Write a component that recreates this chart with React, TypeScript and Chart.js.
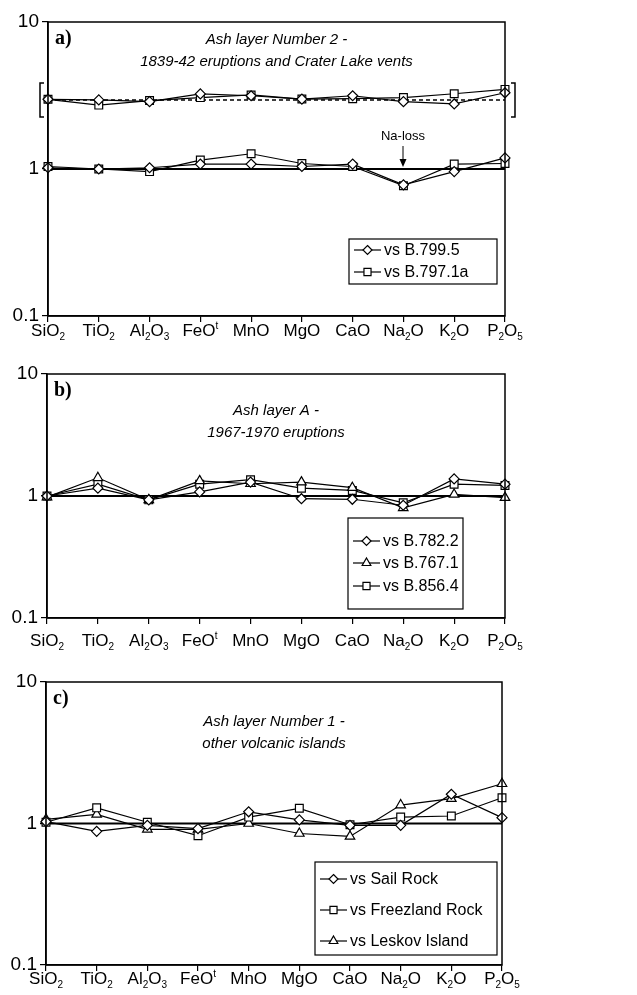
import React, { useEffect, useRef } from 'react';
import { Chart, registerables } from 'chart.js';
Chart.register(...registerables);

// ---------- data ----------
const OXIDES = ['SiO_2', 'TiO_2', 'Al_2O_3', 'FeO^t', 'MnO', 'MgO', 'CaO', 'Na_2O', 'K_2O', 'P_2O_5'];
const Y_TICK_VALUES = [0.1, 1, 10];

// Panel a – Ash layer Number 2
const A_VS_B7995 = [1.02, 1.0, 1.02, 1.08, 1.08, 1.04, 1.08, 0.78, 0.96, 1.19];
const A_VS_B7971A = [1.04, 1.0, 0.96, 1.15, 1.27, 1.09, 1.04, 0.77, 1.08, 1.09];
const A_VS_B7995_UPPER = [2.98, 2.95, 2.87, 3.24, 3.15, 2.99, 3.15, 2.87, 2.77, 3.3];
const A_VS_B7971A_UPPER = [2.98, 2.72, 2.92, 3.06, 3.19, 2.99, 3.01, 3.06, 3.25, 3.48];
const A_DASHED_LEVEL = 2.95;

// Panel b – Ash layer A
const B_VS_B7822 = [1.0, 1.16, 0.93, 1.08, 1.3, 0.95, 0.94, 0.84, 1.38, 1.25];
const B_VS_B7671 = [0.98, 1.41, 0.93, 1.33, 1.26, 1.3, 1.17, 0.8, 1.03, 0.97];
const B_VS_B8564 = [1.0, 1.25, 0.93, 1.25, 1.36, 1.16, 1.11, 0.88, 1.25, 1.22];

// Panel c – Ash layer Number 1
const C_VS_SAIL = [1.03, 0.88, 0.97, 0.92, 1.21, 1.06, 0.97, 0.97, 1.61, 1.1];
const C_VS_FREEZLAND = [1.02, 1.29, 1.02, 0.82, 1.11, 1.28, 0.98, 1.11, 1.13, 1.52];
const C_VS_LESKOV = [1.07, 1.16, 0.91, 0.91, 1.0, 0.85, 0.81, 1.35, 1.5, 1.91];

const REFERENCE_LEVEL = 1;

// ---------- types ----------
type Marker = 'rectRot' | 'rect' | 'triangle';
interface SeriesDef { label: string; data: number[]; marker: Marker; legend: boolean; }
interface PanelDef {
  canvasTop: number; canvasHeight: number;
  left: number; right: number; top: number; bottom: number;
  letter: string;
  titleLines: string[]; titleY: number[];
  labelBaseline: number;
  series: SeriesDef[];
  legend: { x: number; y: number; w: number; h: number; rows: number[] };
  dashedLevel?: number;
  brackets?: { top: number; bottom: number; lx: number; rx: number };
  naLoss?: { x: number; textY: number; y0: number; y1: number };
}

const RADIUS: Record<Marker, number> = { rect: 5.5, rectRot: 5, triangle: 5.5 };
const SANS = '"Liberation Sans", Arial, sans-serif';
const SERIF = '"Liberation Serif", "Times New Roman", serif';

const PANELS: PanelDef[] = [
  {
    canvasTop: 0, canvasHeight: 345, left: 48, right: 505, top: 22, bottom: 316,
    letter: 'a)',
    titleLines: ['Ash layer Number 2 -', '1839-42 eruptions and Crater Lake vents'], titleY: [44, 66],
    labelBaseline: 336,
    series: [
      { label: 'vs B.799.5', data: A_VS_B7995_UPPER, marker: 'rectRot', legend: false },
      { label: 'vs B.797.1a', data: A_VS_B7971A_UPPER, marker: 'rect', legend: false },
      { label: 'vs B.799.5', data: A_VS_B7995, marker: 'rectRot', legend: true },
      { label: 'vs B.797.1a', data: A_VS_B7971A, marker: 'rect', legend: true },
    ],
    legend: { x: 349, y: 239, w: 148, h: 45, rows: [250, 272] },
    dashedLevel: A_DASHED_LEVEL,
    brackets: { top: 83, bottom: 117, lx: 40, rx: 515 },
    naLoss: { x: 403, textY: 140, y0: 146, y1: 167 },
  },
  {
    canvasTop: 345, canvasHeight: 315, left: 47, right: 505, top: 374, bottom: 618,
    letter: 'b)',
    titleLines: ['Ash layer A -', '1967-1970 eruptions'], titleY: [415, 437],
    labelBaseline: 646,
    series: [
      { label: 'vs B.782.2', data: B_VS_B7822, marker: 'rectRot', legend: true },
      { label: 'vs B.767.1', data: B_VS_B7671, marker: 'triangle', legend: true },
      { label: 'vs B.856.4', data: B_VS_B8564, marker: 'rect', legend: true },
    ],
    legend: { x: 348, y: 518, w: 115, h: 91, rows: [541, 563, 586] },
  },
  {
    canvasTop: 660, canvasHeight: 335, left: 46, right: 502, top: 682, bottom: 965,
    letter: 'c)',
    titleLines: ['Ash layer Number 1 -', 'other volcanic islands'], titleY: [726, 748],
    labelBaseline: 984,
    series: [
      { label: 'vs Sail Rock', data: C_VS_SAIL, marker: 'rectRot', legend: true },
      { label: 'vs Freezland Rock', data: C_VS_FREEZLAND, marker: 'rect', legend: true },
      { label: 'vs Leskov Island', data: C_VS_LESKOV, marker: 'triangle', legend: true },
    ],
    legend: { x: 315, y: 862, w: 182, h: 93, rows: [879, 910, 941] },
  },
];

// ---------- helpers ----------
function drawMarker(ctx: CanvasRenderingContext2D, m: Marker, x: number, y: number, r: number) {
  ctx.beginPath();
  if (m === 'rect') {
    const s = r * Math.SQRT1_2;
    ctx.rect(x - s, y - s, 2 * s, 2 * s);
  } else if (m === 'rectRot') {
    ctx.moveTo(x, y - r); ctx.lineTo(x + r, y); ctx.lineTo(x, y + r); ctx.lineTo(x - r, y); ctx.closePath();
  } else {
    const a = (2 * Math.PI) / 3;
    ctx.moveTo(x, y - r);
    ctx.lineTo(x + Math.sin(a) * r, y - Math.cos(a) * r);
    ctx.lineTo(x + Math.sin(2 * a) * r, y - Math.cos(2 * a) * r);
    ctx.closePath();
  }
  ctx.fillStyle = '#fff';
  ctx.fill();
  ctx.stroke();
}

function parseChem(text: string) {
  const parts: { t: string; k: 'n' | 'sub' | 'sup' }[] = [];
  let i = 0;
  while (i < text.length) {
    const c = text[i];
    if (c === '_' || c === '^') { parts.push({ t: text[i + 1], k: c === '_' ? 'sub' : 'sup' }); i += 2; }
    else {
      let j = i;
      while (j < text.length && text[j] !== '_' && text[j] !== '^') j++;
      parts.push({ t: text.slice(i, j), k: 'n' }); i = j;
    }
  }
  return parts;
}

function drawChem(ctx: CanvasRenderingContext2D, text: string, cx: number, baseline: number, size: number) {
  const parts = parseChem(text);
  const small = Math.round(size * 0.6);
  const widths = parts.map(p => {
    ctx.font = `${p.k === 'n' ? size : small}px ${SANS}`;
    return ctx.measureText(p.t).width;
  });
  const total = widths.reduce((a, b) => a + b, 0);
  let x = cx - total / 2;
  ctx.textAlign = 'left';
  ctx.textBaseline = 'alphabetic';
  parts.forEach((p, idx) => {
    ctx.font = `${p.k === 'n' ? size : small}px ${SANS}`;
    const y = p.k === 'sub' ? baseline + size * 0.22 : p.k === 'sup' ? baseline - size * 0.42 : baseline;
    ctx.fillText(p.t, x, y);
    x += widths[idx];
  });
}

function makeDecorPlugin(p: PanelDef) {
  const oy = p.canvasTop;
  return {
    id: 'decor',
    beforeDatasetsDraw(chart: any) {
      const { ctx, chartArea, scales } = chart;
      ctx.save();
      ctx.strokeStyle = '#000';
      const y1 = scales.y.getPixelForValue(REFERENCE_LEVEL);
      ctx.lineWidth = 2;
      ctx.beginPath(); ctx.moveTo(chartArea.left, y1); ctx.lineTo(chartArea.right, y1); ctx.stroke();
      if (p.dashedLevel !== undefined) {
        const yd = scales.y.getPixelForValue(p.dashedLevel);
        ctx.lineWidth = 1.5;
        ctx.setLineDash([4, 3]);
        ctx.beginPath(); ctx.moveTo(chartArea.left, yd); ctx.lineTo(chartArea.right, yd); ctx.stroke();
        ctx.setLineDash([]);
      }
      ctx.restore();
    },
    afterDraw(chart: any) {
      const { ctx, chartArea, scales } = chart;
      ctx.save();
      ctx.strokeStyle = '#000';
      ctx.fillStyle = '#000';
      // frame
      ctx.lineWidth = 1.5;
      ctx.strokeRect(chartArea.left, chartArea.top, chartArea.right - chartArea.left, chartArea.bottom - chartArea.top);
      // panel letter
      ctx.font = `bold 20px ${SERIF}`;
      ctx.textAlign = 'left';
      ctx.textBaseline = 'alphabetic';
      ctx.fillText(p.letter, chartArea.left + 7, chartArea.top + 22);
      // title
      ctx.font = `italic 15px ${SANS}`;
      ctx.textAlign = 'center';
      const cx = (chartArea.left + chartArea.right) / 2;
      p.titleLines.forEach((t, i) => ctx.fillText(t, cx, p.titleY[i] - oy));
      // x labels
      OXIDES.forEach((lab, i) => {
        const x = scales.x.getPixelForValue(i);
        drawChem(ctx, lab, x, p.labelBaseline - oy, 17);
      });
      // legend
      const L = p.legend;
      ctx.lineWidth = 1.2;
      ctx.strokeRect(L.x, L.y - oy, L.w, L.h);
      const items = p.series.filter(s => s.legend);
      items.forEach((s, i) => {
        const ry = L.rows[i] - oy;
        ctx.lineWidth = 1.2;
        ctx.beginPath(); ctx.moveTo(L.x + 5, ry); ctx.lineTo(L.x + 32, ry); ctx.stroke();
        drawMarker(ctx, s.marker, L.x + 18.5, ry, RADIUS[s.marker] - 0.5);
        ctx.fillStyle = '#000';
        ctx.font = `16px ${SANS}`;
        ctx.textAlign = 'left';
        ctx.textBaseline = 'middle';
        ctx.fillText(s.label, L.x + 35, ry + 1);
      });
      // brackets
      if (p.brackets) {
        const b = p.brackets;
        ctx.lineWidth = 1.5;
        ctx.beginPath();
        ctx.moveTo(b.lx + 4, b.top - oy); ctx.lineTo(b.lx, b.top - oy); ctx.lineTo(b.lx, b.bottom - oy); ctx.lineTo(b.lx + 4, b.bottom - oy);
        ctx.moveTo(b.rx - 4, b.top - oy); ctx.lineTo(b.rx, b.top - oy); ctx.lineTo(b.rx, b.bottom - oy); ctx.lineTo(b.rx - 4, b.bottom - oy);
        ctx.stroke();
      }
      // Na-loss annotation
      if (p.naLoss) {
        const n = p.naLoss;
        ctx.fillStyle = '#000';
        ctx.font = `13px ${SANS}`;
        ctx.textAlign = 'center';
        ctx.textBaseline = 'alphabetic';
        ctx.fillText('Na-loss', n.x, n.textY - oy);
        ctx.lineWidth = 1;
        ctx.beginPath(); ctx.moveTo(n.x, n.y0 - oy); ctx.lineTo(n.x, n.y1 - 7 - oy); ctx.stroke();
        ctx.beginPath();
        ctx.moveTo(n.x, n.y1 - oy); ctx.lineTo(n.x - 3.5, n.y1 - 8 - oy); ctx.lineTo(n.x + 3.5, n.y1 - 8 - oy); ctx.closePath();
        ctx.fill();
      }
      ctx.restore();
    },
  };
}

function Panel({ p }: { p: PanelDef }) {
  const ref = useRef<HTMLCanvasElement | null>(null);
  useEffect(() => {
    const canvas = ref.current!;
    const localTop = p.top - p.canvasTop;
    const localBottom = p.bottom - p.canvasTop;
    const chart = new Chart(canvas, {
      type: 'line',
      data: {
        labels: OXIDES,
        datasets: p.series.map(s => ({
          label: s.label,
          data: s.data,
          borderColor: '#000',
          borderWidth: 1.2,
          backgroundColor: '#fff',
          pointStyle: s.marker,
          pointRadius: RADIUS[s.marker],
          pointBorderColor: '#000',
          pointBackgroundColor: '#fff',
          pointBorderWidth: 1.2,
          tension: 0,
          fill: false,
        })),
      },
      options: {
        responsive: false,
        animation: false,
        events: [],
        layout: { padding: { top: localTop, right: 637 - p.right, left: 0, bottom: 0 } },
        plugins: { legend: { display: false }, tooltip: { enabled: false } },
        scales: {
          x: {
            type: 'category',
            offset: false,
            ticks: { display: false },
            grid: { display: true, drawOnChartArea: false, drawTicks: true, tickLength: 6, color: '#000', lineWidth: 1.2 },
            border: { display: true, color: '#000', width: 1.5 },
            afterFit: (s: any) => { s.height = p.canvasHeight - localBottom; },
          },
          y: {
            type: 'logarithmic',
            min: 0.1,
            max: 10,
            afterBuildTicks: (s: any) => { s.ticks = Y_TICK_VALUES.map(v => ({ value: v, major: true })); },
            afterFit: (s: any) => { s.width = p.left; },
            ticks: {
              autoSkip: false,
              padding: 3,
              color: '#000',
              font: { family: SANS, size: 19 },
              callback: (v: any) => String(Number(v)),
            },
            grid: { display: true, drawOnChartArea: false, drawTicks: true, tickLength: 6, color: '#000', lineWidth: 1.2 },
            border: { display: true, color: '#000', width: 1.5 },
          },
        },
      },
      plugins: [makeDecorPlugin(p)],
    } as any);
    return () => chart.destroy();
  }, [p]);
  return (
    <canvas
      ref={ref}
      width={637}
      height={p.canvasHeight}
      style={{ position: 'absolute', left: 0, top: p.canvasTop, width: 637, height: p.canvasHeight, display: 'block' }}
    />
  );
}

export default function App() {
  useEffect(() => {
    document.body.style.margin = '0';
    document.body.style.background = '#fff';
  }, []);
  return (
    <div style={{ position: 'relative', width: 637, height: 995, background: '#fff', overflow: 'hidden' }}>
      {PANELS.map((p, i) => <Panel key={i} p={p} />)}
    </div>
  );
}
